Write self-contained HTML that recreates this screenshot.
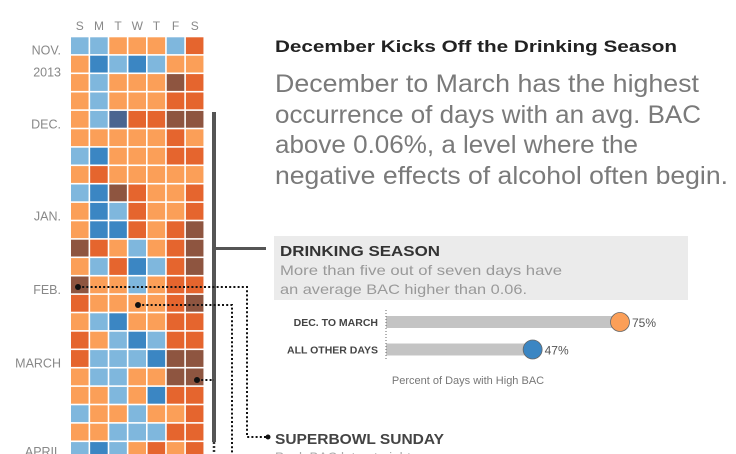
<!DOCTYPE html>
<html><head><meta charset="utf-8"><style>
body{margin:0;width:736px;height:454px;overflow:hidden;background:#fff;font-family:"Liberation Sans",sans-serif}
</style></head><body>
<svg width="736" height="454" style="display:block">
<g id="grid"></g>
<g id="labels"></g>
<rect x="212" y="112" width="4" height="330" fill="#555"/>
<rect x="214" y="247" width="52" height="3" fill="#555"/>
<line x1="214" y1="442" x2="214" y2="454" stroke="#333" stroke-width="2.5" stroke-dasharray="2,2"/>
<g fill="none" stroke="#111" stroke-width="2" stroke-dasharray="2,2.2">
<polyline points="78,287 247,287 247,437 266,437"/>
<polyline points="138,305 232,305 232,454"/>
<polyline points="197,380 214,380"/>
</g>
<g fill="#111"><circle cx="78" cy="287" r="3"/><circle cx="138" cy="305" r="3"/><circle cx="197" cy="380" r="3"/><circle cx="268" cy="437" r="2.5"/></g>
<text x="275" y="52" font-size="17" font-weight="bold" fill="#222" textLength="402" lengthAdjust="spacingAndGlyphs">December Kicks Off the Drinking Season</text>
<g font-size="25" fill="#7a7a7a">
<text x="275" y="92" textLength="424" lengthAdjust="spacingAndGlyphs">December to March has the highest</text>
<text x="275" y="123" textLength="426" lengthAdjust="spacingAndGlyphs">occurrence of days with an avg. BAC</text>
<text x="275" y="153" textLength="363" lengthAdjust="spacingAndGlyphs">above 0.06%, a level where the</text>
<text x="275" y="184" textLength="453" lengthAdjust="spacingAndGlyphs">negative effects of alcohol often begin.</text>
</g>
<rect x="274" y="236" width="414" height="64" fill="#ebebeb"/>
<text x="280" y="256" font-size="15" font-weight="bold" fill="#333" textLength="160" lengthAdjust="spacingAndGlyphs">DRINKING SEASON</text>
<text x="280" y="275" font-size="14" fill="#999" textLength="282" lengthAdjust="spacingAndGlyphs">More than five out of seven days have</text>
<text x="280" y="294" font-size="14" fill="#999" textLength="247" lengthAdjust="spacingAndGlyphs">an average BAC higher than 0.06.</text>
<g id="bars"></g>
<line x1="386" y1="310" x2="386" y2="360" stroke="#666" stroke-dasharray="1,2"/>
<text x="468" y="384" font-size="11" fill="#777" text-anchor="middle">Percent of Days with High BAC</text>
<text x="275" y="444" font-size="15" font-weight="bold" fill="#444" textLength="169" lengthAdjust="spacingAndGlyphs">SUPERBOWL SUNDAY</text>
<text x="275" y="462" font-size="13.5" fill="#aaa">Peak BAC late at night</text>
</svg>
<script>
const rows=["LLoooLO","oBLBLoo","oLoooRO","oLoooOO","oLNOORR","oooooOo","LBoooOO","oOooooo","LBROooO","oBLOooO","oBBOoOR","ROoLoOR","oLOBLOR","RooLoOO","OooooOR","oLBooOO","OoLBLOO","OLLLBRR","oLLooRR","ooLoBOO","LooLooO","ooLLLOO","LBLoOoO"];
const colors={L:"#7fb7dd",B:"#3b86c3",N:"#4a6590",o:"#fb9f58",O:"#e5652e",R:"#8e5540"};
const days=["S","M","T","W","T","F","S"];
const months=["NOV.","2013","DEC.","JAN.","FEB.","MARCH","APRIL"];
const monthRows=[0.4,1.6,4.4,9.4,13.4,17.4,22.2];
const categories=["DEC. TO MARCH","ALL OTHER DAYS"];
const values=[75,47];
const dotColors=["#fb9f58","#3b86c3"];
const NS="http://www.w3.org/2000/svg";
const x0=71,y0=37.3,sx=19.15,sy=18.4;
const X=c=>x0+c*sx, Y=r=>y0+r*sy;
const g=document.getElementById("grid");
rows.forEach((row,r)=>{[...row].forEach((ch,c)=>{
 const e=document.createElementNS(NS,"rect");
 e.setAttribute("x",X(c));e.setAttribute("y",Y(r));
 e.setAttribute("width",sx-1.6);e.setAttribute("height",sy-1.6);
 e.setAttribute("fill",colors[ch]);
 
 
 g.appendChild(e);});});
const lg=document.getElementById("labels");
days.forEach((d,i)=>{const t=document.createElementNS(NS,"text");
 t.setAttribute("x",X(i)+8.8);t.setAttribute("y",30);t.setAttribute("text-anchor","middle");
 t.setAttribute("font-size","12");t.setAttribute("fill","#888");t.textContent=d;
 
 
 lg.appendChild(t);});
months.forEach((m,i)=>{const t=document.createElementNS(NS,"text");
 t.setAttribute("x",61);t.setAttribute("y",Y(monthRows[i])+10);t.setAttribute("text-anchor","end");
 t.setAttribute("font-size","12.5");t.setAttribute("fill","#888");t.textContent=m;
 
 
 lg.appendChild(t);});
const bx=v=>386+v*3.12;
const bg=document.getElementById("bars");
categories.forEach((c,i)=>{const cy=322+i*27.5;
 const t=document.createElementNS(NS,"text");
 t.setAttribute("x",378);t.setAttribute("y",cy+4);t.setAttribute("text-anchor","end");
 t.setAttribute("font-size","10.5");t.setAttribute("font-weight","bold");t.setAttribute("fill","#444");t.textContent=c;
 
 
 bg.appendChild(t);
 const r=document.createElementNS(NS,"rect");
 r.setAttribute("x",386);r.setAttribute("y",cy-6);r.setAttribute("width",bx(values[i])-386);r.setAttribute("height",12);r.setAttribute("fill","#c4c4c4");
 
 
 bg.appendChild(r);
 const d=document.createElementNS(NS,"circle");
 d.setAttribute("cx",bx(values[i]));d.setAttribute("cy",cy);d.setAttribute("r",9.5);d.setAttribute("fill",dotColors[i]);d.setAttribute("stroke","#666");d.setAttribute("stroke-width","0.8");
 
 
 bg.appendChild(d);
 const v=document.createElementNS(NS,"text");
 v.setAttribute("x",bx(values[i])+12);v.setAttribute("y",cy+5);v.setAttribute("font-size","12");v.setAttribute("fill","#555");v.textContent=values[i]+"%";
 
 
 bg.appendChild(v);});
</script>
</body></html>
